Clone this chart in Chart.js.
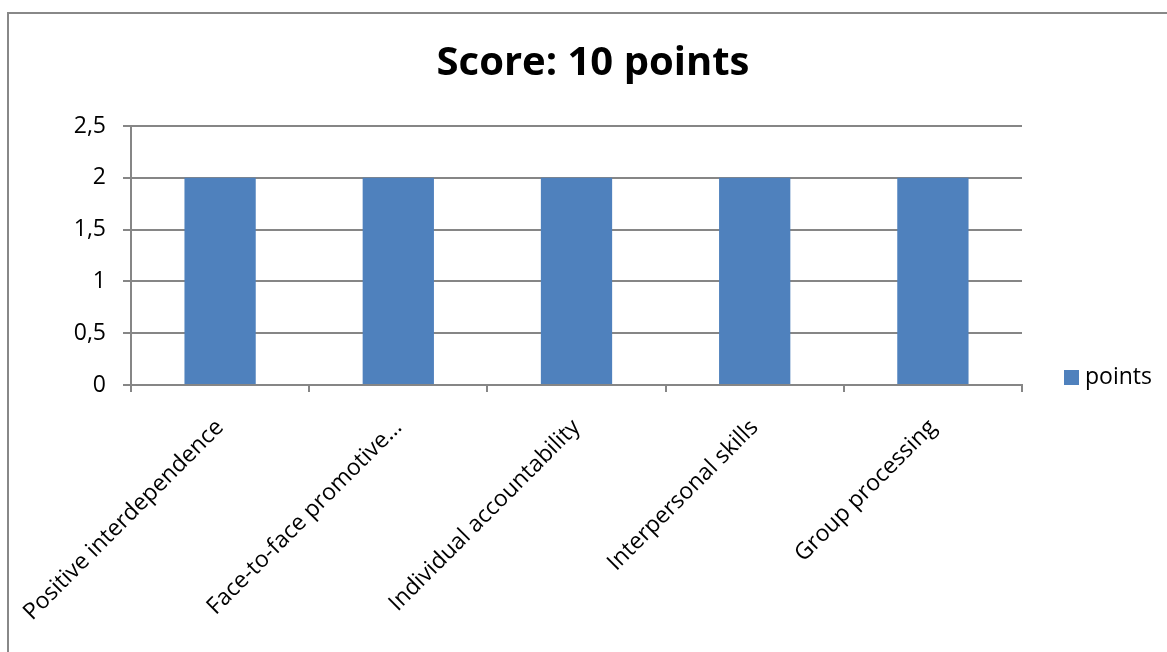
<!DOCTYPE html>
<html lang="en">
<head>
    <meta charset="UTF-8" />
    <title>Score: 10 points</title>
    <style>
        html, body {
            margin: 0;
            padding: 0;
            background: #fff;
            overflow: hidden;
        }
        .frame {
            position: absolute;
            left: 7px;
            top: 12px;
            width: 1200px;
            height: 700px;
            border-left: 2px solid #888;
            border-top: 2px solid #888;
        }
        .chart-box {
            position: absolute;
            left: 0;
            top: 0;
            width: 1167px;
            height: 652px;
        }
    </style>
    <script src="https://cdn.jsdelivr.net/npm/chart.js"></script>
</head>
<body>
    <div class="frame"></div>
    <div class="chart-box">
        <canvas id="score-chart" width="1167" height="652"></canvas>
    </div>
    <script>
        const chartTitle = 'Score: 10 points';
        const seriesName = 'points';
        const categories = [
            'Positive interdependence',
            'Face-to-face promotive…',
            'Individual accountability',
            'Interpersonal skills',
            'Group processing'
        ];
        const pointValues = [2, 2, 2, 2, 2];
        const yTicks = [0, 0.5, 1, 1.5, 2, 2.5];

        const barColor = '#4F81BD';
        const gridColor = '#868686';
        const fontFamily = '"Open Sans", sans-serif';

        // title + legend drawn by hand so they land where the original has them
        const titleAndLegend = {
            id: 'titleAndLegend',
            afterDraw(chart) {
                const ctx = chart.ctx;
                ctx.save();
                ctx.fillStyle = '#000';
                ctx.font = 'bold 40px ' + fontFamily;
                ctx.textAlign = 'center';
                ctx.textBaseline = 'middle';
                ctx.fillText(chartTitle, 593, 64);

                const ds = chart.data.datasets[0];
                ctx.fillStyle = ds.backgroundColor;
                ctx.fillRect(1064, 370, 15, 15);
                ctx.fillStyle = '#000';
                ctx.font = '23px ' + fontFamily;
                ctx.textAlign = 'left';
                ctx.fillText(ds.label, 1085, 377);
                ctx.restore();
            }
        };

        new Chart(document.getElementById('score-chart'), {
            type: 'bar',
            data: {
                labels: categories,
                datasets: [{
                    label: seriesName,
                    data: pointValues,
                    backgroundColor: barColor,
                    categoryPercentage: 1,
                    barPercentage: 0.4
                }]
            },
            options: {
                responsive: false,
                animation: false,
                devicePixelRatio: 1,
                layout: {
                    padding: { top: 126, right: 145, bottom: 0, left: 0 }
                },
                plugins: {
                    legend: { display: false },
                    title: { display: false },
                    tooltip: { enabled: false }
                },
                scales: {
                    x: {
                        grid: {
                            offset: true,
                            drawOnChartArea: false,
                            drawTicks: true,
                            tickLength: 7,
                            color: gridColor,
                            lineWidth: 2
                        },
                        border: { color: gridColor, width: 2 },
                        ticks: {
                            color: '#000',
                            font: { family: fontFamily, size: 23 },
                            minRotation: 45,
                            maxRotation: 45,
                            padding: 22,
                            autoSkip: false
                        },
                        afterFit(scale) {
                            scale.height = 652 - 385;
                            // long rotated labels must not push the plot area right
                            scale.paddingLeft = 0;
                            scale.paddingRight = 0;
                        }
                    },
                    y: {
                        min: 0,
                        max: 2.5,
                        afterBuildTicks(scale) {
                            scale.ticks = yTicks.map(v => ({ value: v }));
                        },
                        grid: {
                            color: gridColor,
                            lineWidth: 2,
                            tickLength: 8
                        },
                        border: { color: gridColor, width: 2 },
                        ticks: {
                            color: '#000',
                            font: { family: fontFamily, size: 23 },
                            padding: 17,
                            callback: v => String(v).replace('.', ',')
                        },
                        afterFit(scale) { scale.width = 131; }
                    }
                }
            },
            plugins: [titleAndLegend]
        });
    </script>
</body>
</html>
